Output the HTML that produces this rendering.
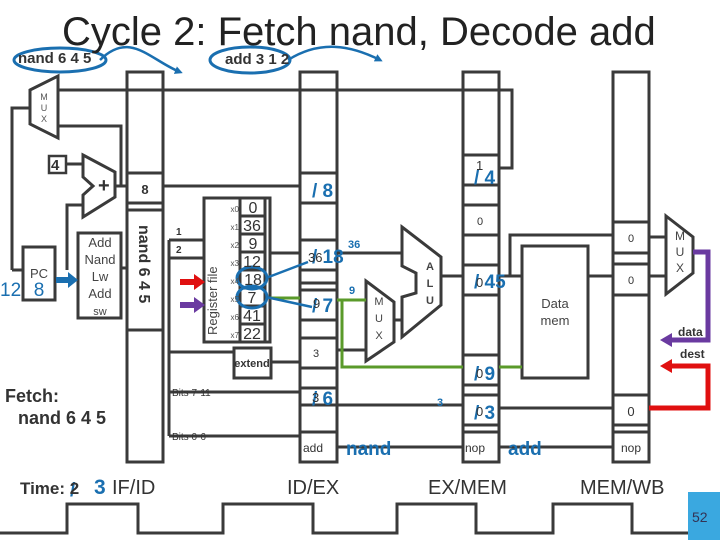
<!DOCTYPE html>
<html><head><meta charset="utf-8"><style>
html,body{margin:0;padding:0;background:#fff;width:720px;height:540px;overflow:hidden}
svg{display:block}
text{font-family:"Liberation Sans",sans-serif}
</style></head><body>
<svg width="720" height="540" viewBox="0 0 720 540" xmlns="http://www.w3.org/2000/svg">
<defs>
<marker id="ab" markerWidth="8" markerHeight="8" refX="5" refY="4" orient="auto" markerUnits="userSpaceOnUse"><path d="M0,0 L8,4 L0,8 z" fill="#1a6fb0"/></marker>
</defs>
<g fill="none" stroke="#3a3a3a" stroke-width="3">
<rect x="127" y="72" width="36" height="390"/>
<rect x="300" y="72" width="37" height="390"/>
<rect x="463" y="72" width="36" height="390"/>
<rect x="613" y="72" width="36" height="390"/>
<polygon points="30,90 58,76 58,138 30,124"/>
<path d="M58,90 H512 V168 H499"/>
<path d="M12,270 V108 H30"/>
<path d="M58,126 H121 V186"/>
<rect x="49" y="156" width="17" height="17" stroke-width="2.5"/>
<path d="M66,164 H83"/>
<polygon points="83,155 115,172 115,197 83,217 83,195 93,186 83,177"/>
<path d="M115,186 H127"/>
<path d="M67,270 V205 H83"/>
<rect x="23" y="247" width="32" height="53"/>
<path d="M12,270 H23"/>
<rect x="78" y="233" width="43" height="85"/>
<path d="M121,268 H127"/>
<path d="M127,173 H163 M127,203 H163 M127,210 H163 M127,330 H163"/>
<path d="M163,186 H300"/>
<rect x="204" y="198" width="66" height="144"/>
<path d="M240,198 V342 M265,198 V342"/>
<path d="M240,216 H265 M240,234 H265 M240,252 H265 M240,270 H265 M240,288 H265 M240,306 H265 M240,324 H265"/>
<path d="M169,240 H204 M169,258 H204 M169,240 V436"/>
<path d="M169,352 H234"/>
<rect x="234" y="348" width="37" height="30"/>
<path d="M271,362 H300"/>
<path d="M270,253 H300"/>
<path d="M169,392 H300 M169,436 H300"/>
<path d="M300,173 H337 M300,203 H337 M300,240 H337 M300,270 H337 M300,283 H337 M300,290 H337 M300,320 H337 M300,338 H337 M300,368 H337 M300,388 H337 M300,405 H337 M300,432 H337"/>
<path d="M337,253 H402"/>
<path d="M337,350 H366"/>
<path d="M337,405 H463 M337,447 H463"/>
<polygon points="402,227 441,257 441,305 402,337 402,297 416,293 416,273 402,266"/>
<path d="M393,320 H402"/>
<path d="M441,276 H463"/>
<polygon points="366,281 394,302 394,342 366,361"/>
<path d="M463,155 H499 M463,185 H499 M463,205 H499 M463,235 H499 M463,265 H499 M463,295 H499 M463,355 H499 M463,385 H499 M463,395 H499 M463,425 H499 M463,432 H499"/>
<path d="M499,276 H522"/>
<path d="M510,276 V235 H613"/>
<rect x="522" y="246" width="66" height="132"/>
<path d="M588,276 H613"/>
<path d="M499,408 H613 M499,447 H613"/>
<path d="M613,222 H649 M613,253 H649 M613,264 H649 M613,295 H649 M613,395 H649 M613,425 H649 M613,432 H649"/>
<path d="M649,237 H666 M649,276 H666"/>
<polygon points="666,216 693,237 693,273 666,294"/>
<path d="M0,533 H67 V504 H138 V533 H223 V504 H313 V533 H397 V504 H476 V533 H553 V504 H632 V533 H705 V504 H720"/>
</g>
<path d="M270,298 H300 M337,300 H366 M342,300 V367 H463 M499,367 H522" fill="none" stroke="#5a9a2a" stroke-width="3"/>
<path d="M693,252 H708 V340 H668" fill="none" stroke="#6a3aa0" stroke-width="5"/>
<polygon points="660,340 672,333 672,347" fill="#6a3aa0"/>
<path d="M649,408 H708 V366 H668" fill="none" stroke="#e01010" stroke-width="5"/>
<polygon points="660,366 672,359 672,373" fill="#e01010"/>
<path d="M180,282 H196" stroke="#e01010" stroke-width="6"/><polygon points="194,274 205,282 194,290" fill="#e01010"/>
<path d="M180,305 H196" stroke="#6a3aa0" stroke-width="6"/><polygon points="194,297 205,305 194,313" fill="#6a3aa0"/>
<path d="M56,280 H70" stroke="#1a6fb0" stroke-width="6"/><polygon points="68,272 78,280 68,288" fill="#1a6fb0"/>
<g fill="none" stroke="#1a6fb0" stroke-width="3">
<ellipse cx="60" cy="60" rx="46" ry="12"/>
<ellipse cx="250" cy="60" rx="40" ry="13"/>
<ellipse cx="252" cy="278" rx="15" ry="11"/>
<ellipse cx="252" cy="297" rx="15" ry="11"/>
</g>
<g fill="none" stroke="#1a6fb0" stroke-width="2.5">
<path d="M100,60 C130,30 150,60 180,72" marker-end="url(#ab)"/>
<path d="M288,60 C320,40 350,45 380,60" marker-end="url(#ab)"/>
<path d="M266,278 L308,262"/>
<path d="M266,297 L312,307"/>
</g>
<text x="62" y="45" font-size="40" fill="#222">Cycle 2: Fetch nand, Decode add</text>
<g font-weight="bold" font-size="15" fill="#333">
<text x="18" y="63">nand 6 4 5</text>
<text x="225" y="64">add 3 1 2</text>
</g>
<g font-size="9" fill="#555" text-anchor="middle">
<text x="44" y="100">M</text><text x="44" y="111">U</text><text x="44" y="122">X</text>
</g>
<text x="51" y="170" font-size="15" font-weight="bold" fill="#333">4</text>
<text x="98" y="192" font-size="20" font-weight="bold" fill="#333">+</text>
<text x="39" y="278" font-size="13" fill="#444" text-anchor="middle">PC</text>
<text x="39" y="296" font-size="19" fill="#1a6fb0" text-anchor="middle">8</text>
<text x="0" y="296" font-size="19" fill="#1a6fb0">12</text>
<g font-size="13" fill="#444" text-anchor="middle">
<text x="100" y="247">Add</text><text x="100" y="264">Nand</text><text x="100" y="281">Lw</text><text x="100" y="298">Add</text><text x="100" y="315" font-size="11">sw</text>
</g>
<text x="145" y="194" font-size="13" font-weight="bold" fill="#333" text-anchor="middle">8</text>
<text transform="translate(139,225) rotate(90)" font-size="16" font-weight="bold" fill="#333">nand 6 4 5</text>
<text x="176" y="235" font-size="10" font-weight="bold" fill="#333">1</text>
<text x="176" y="253" font-size="10" font-weight="bold" fill="#333">2</text>
<text transform="translate(217,335) rotate(-90)" font-size="13" fill="#444">Register file</text>
<g font-size="8" fill="#555" text-anchor="end">
<text x="239" y="212">x0</text><text x="239" y="230">x1</text><text x="239" y="248">x2</text><text x="239" y="266">x3</text><text x="239" y="284">x4</text><text x="239" y="302">x5</text><text x="239" y="320">x6</text><text x="239" y="338">x7</text>
</g>
<g font-size="16" fill="#333" text-anchor="middle">
<text x="253" y="213">0</text><text x="252" y="231">36</text><text x="253" y="249">9</text><text x="252" y="267">12</text><text x="253" y="285">18</text><text x="252" y="303">7</text><text x="252" y="321">41</text><text x="252" y="339">22</text>
</g>
<text x="252" y="367" font-size="11" font-weight="bold" fill="#333" text-anchor="middle">extend</text>
<text x="172" y="396" font-size="10" fill="#333">Bits 7-11</text>
<text x="172" y="440" font-size="10" fill="#333">Bits 0-6</text>
<text x="5" y="402" font-size="18" font-weight="bold" fill="#333">Fetch:</text>
<text x="18" y="424" font-size="18" font-weight="bold" fill="#333">nand 6 4 5</text>
<g font-size="19" font-weight="bold" fill="#1a6fb0">
<text x="312" y="197">/ 8</text>
<text x="312" y="263">/ 18</text>
<text x="312" y="312">/ 7</text>
<text x="312" y="405">/ 6</text>
<text x="474" y="184">/ 4</text>
<text x="474" y="288">/ 45</text>
<text x="474" y="380">/ 9</text>
<text x="474" y="419">/ 3</text>
<text x="346" y="455">nand</text>
<text x="508" y="455">add</text>
<text x="70" y="496">/</text>
<text x="94" y="494" font-size="21">3</text>
</g>
<text x="308" y="262" font-size="13" fill="#333">36</text>
<text x="313" y="308" font-size="13" fill="#333">9</text>
<text x="313" y="357" font-size="11" fill="#333">3</text>
<text x="312" y="402" font-size="13" fill="#333">3</text>
<text x="303" y="452" font-size="12" fill="#333">add</text>
<text x="348" y="248" font-size="11" fill="#1a6fb0" font-weight="bold">36</text>
<text x="349" y="294" font-size="11" fill="#1a6fb0" font-weight="bold">9</text>
<text x="437" y="406" font-size="11" fill="#1a6fb0" font-weight="bold">3</text>
<g font-size="11" fill="#444" text-anchor="middle">
<text x="379" y="305">M</text><text x="379" y="322">U</text><text x="379" y="339">X</text>
<text x="430" y="270" font-weight="bold">A</text><text x="430" y="287" font-weight="bold">L</text><text x="430" y="304" font-weight="bold">U</text>
<text x="680" y="240" font-size="12">M</text><text x="680" y="256" font-size="12">U</text><text x="680" y="272" font-size="12">X</text>
</g>
<text x="477" y="225" font-size="11" fill="#333">0</text>
<text x="476" y="170" font-size="13" fill="#333">1</text>
<text x="476" y="287" font-size="13" fill="#333">0</text>
<text x="476" y="378" font-size="13" fill="#333">0</text>
<text x="476" y="416" font-size="13" fill="#333">0</text>
<text x="465" y="452" font-size="12" fill="#333">nop</text>
<text x="555" y="308" font-size="13" fill="#444" text-anchor="middle">Data</text>
<text x="555" y="325" font-size="13" fill="#444" text-anchor="middle">mem</text>
<text x="631" y="242" font-size="11" fill="#333" text-anchor="middle">0</text>
<text x="631" y="284" font-size="11" fill="#333" text-anchor="middle">0</text>
<text x="631" y="416" font-size="13" fill="#333" text-anchor="middle">0</text>
<text x="631" y="452" font-size="12" fill="#333" text-anchor="middle">nop</text>
<text x="678" y="336" font-size="12" font-weight="bold" fill="#333">data</text>
<text x="680" y="358" font-size="12" font-weight="bold" fill="#333">dest</text>
<text x="20" y="494" font-size="17" font-weight="bold" fill="#333">Time: 2</text>
<text x="112" y="494" font-size="20" fill="#333">IF/ID</text>
<text x="287" y="494" font-size="20" fill="#333">ID/EX</text>
<text x="428" y="494" font-size="20" fill="#333">EX/MEM</text>
<text x="580" y="494" font-size="20" fill="#333">MEM/WB</text>
<rect x="688" y="492" width="32" height="48" fill="#3aa8e0"/>
<text x="692" y="522" font-size="14" fill="#335">52</text>
</svg>
</body></html>
